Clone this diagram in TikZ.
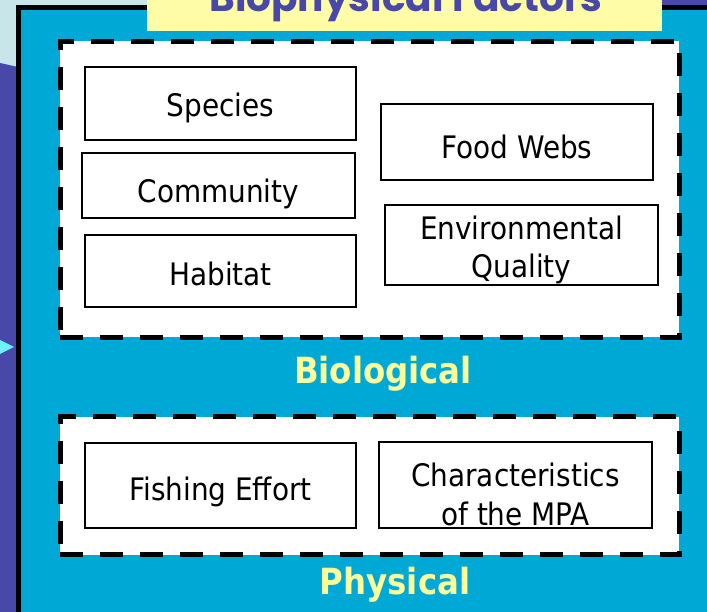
\documentclass[tikz,border=0pt]{standalone}
\usepackage{fontspec}
\setmainfont{DejaVu Sans Condensed}
\newfontfamily\titlefont{Poppins}
\usepackage{xcolor}
\usetikzlibrary{positioning}

\definecolor{seablue}{RGB}{0,168,214}
\definecolor{slidepurple}{RGB}{72,72,168}
\definecolor{paleaqua}{RGB}{200,230,234}
\definecolor{titleyellow}{RGB}{255,252,168}
\definecolor{labelyellow}{RGB}{255,255,153}
\definecolor{pointercyan}{RGB}{110,240,255}

\begin{document}
\begin{tikzpicture}[x=1pt,y=-1pt,
    font=\fontsize{31}{37}\selectfont,
    factor/.style={shape=rectangle,
      draw,
      line width=1.5pt,
      fill=white,
      align=center,
      inner sep=0pt},
    textlift/.style={text height=#1,
      text depth=0pt},
    group/.style={shape=rectangle,
      draw,
      fill=white,
      line width=5pt,
      dash pattern=on 23pt off 17pt},
    grouplabel/.style={font=\fontsize{36}{40}\selectfont\bfseries,
      text=labelyellow}]

    \useasboundingbox (0,0) rectangle (707,612);
    \clip (0,0) rectangle (707,612);

    % slide background
    \fill[paleaqua] (0,0) rectangle (707,612);
    \fill[slidepurple] (0,63) -- (18,67) -- (18,612) -- (0,612) -- cycle;
    \fill[slidepurple] (640,0) rectangle (707,8);
    \fill[pointercyan] (0,340) -- (14,347) -- (0,354) -- cycle;

    % main panel
    \draw[fill=seablue,line width=5pt] (18.5,7.5) rectangle (730,640);

    % title
    \node[name=titlebox,
      shape=rectangle,
      fill=titleyellow,
      minimum width=515pt,
      minimum height=60pt,
      anchor=south west] at (147,31) {};
    \node[name=title,
      anchor=base,
      font=\titlefont\fontsize{39}{39}\selectfont\bfseries,
      text=slidepurple] at (406,12) {Biophysical Factors};

    % biological group
    \node[name=biobox,
      group,
      minimum width=619pt,
      minimum height=296pt] at (369.5,189.5) {};

    \node[name=species,
      factor,
      textlift=27pt,
      minimum width=271pt,
      minimum height=73pt] at (220.5,103.5) {Species};

    \node[name=community,
      factor,
      textlift=35pt,
      minimum width=273pt,
      minimum height=65pt] at (218.5,185.5) {Community};

    \node[name=habitat,
      factor,
      textlift=30pt,
      minimum width=271pt,
      minimum height=72pt] at (220.5,271) {Habitat};

    \node[name=foodwebs,
      factor,
      textlift=34pt,
      minimum width=272pt,
      minimum height=76pt] at (517,142) {Food Webs};

    \node[name=envquality,
      factor,
      font=\fontsize{31}{38}\selectfont,
      textlift=66pt,
      minimum width=273pt,
      minimum height=80pt] at (521.5,245) {Environmental\\Quality};

    \node[name=biolabel,
      grouplabel,
      anchor=base] at (383,383) {Biological};

    % physical group
    \node[name=physbox,
      group,
      minimum width=619pt,
      minimum height=138pt] at (369.5,485.5) {};

    \node[name=fishing,
      factor,
      textlift=29pt,
      minimum width=271pt,
      minimum height=85pt] at (220.5,485.5) {Fishing Effort};

    \node[name=mpa,
      factor,
      font=\fontsize{31}{39}\selectfont,
      textlift=80pt,
      minimum width=273pt,
      minimum height=86pt] at (515.5,485) {Characteristics\\of the MPA};

    \node[name=physlabel,
      grouplabel,
      anchor=base] at (395,594) {Physical};

\end{tikzpicture}
\end{document}
